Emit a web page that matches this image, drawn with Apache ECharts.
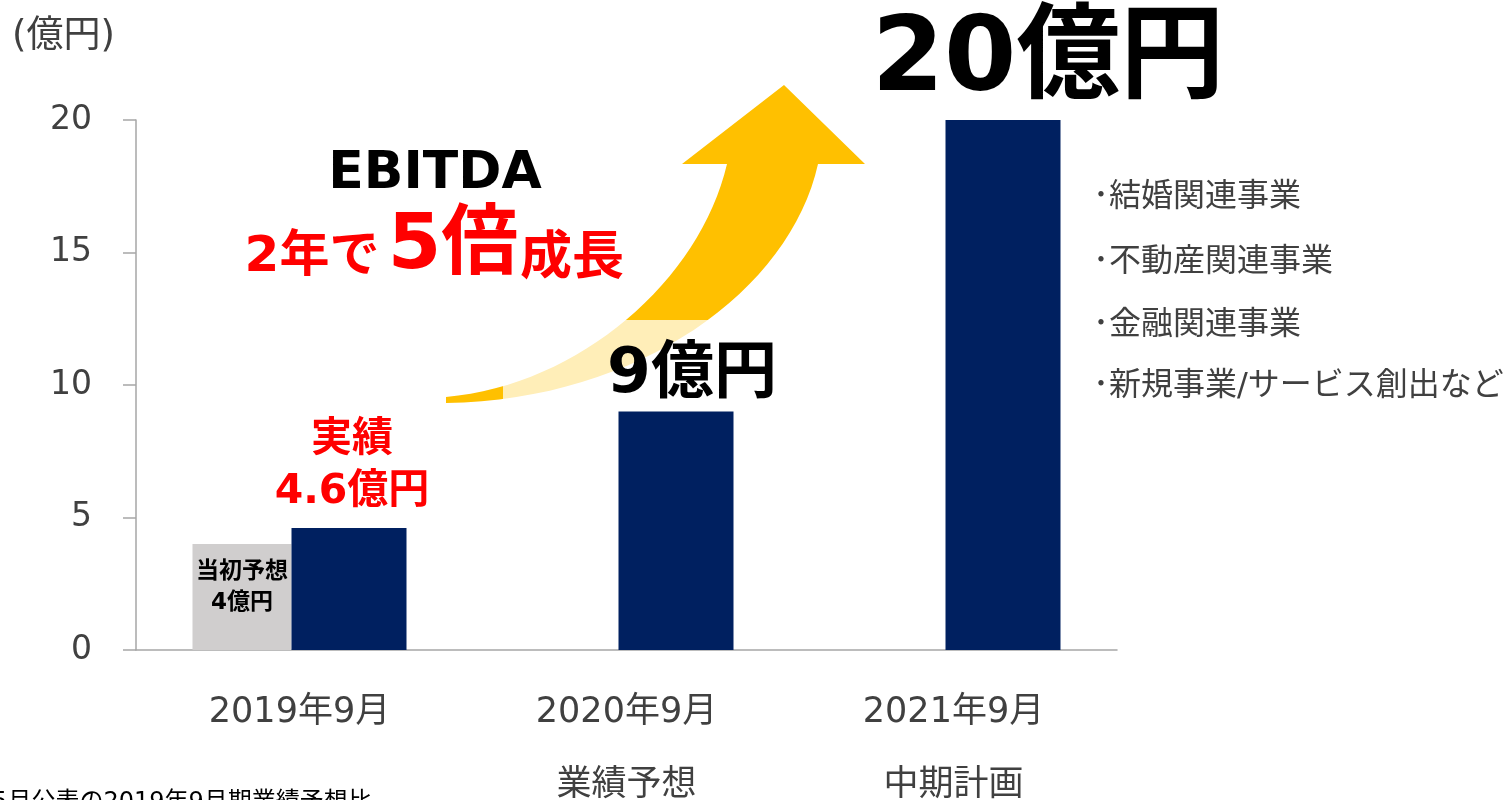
<!DOCTYPE html>
<html>
<head>
<meta charset="utf-8">
<script src="https://cdn.jsdelivr.net/npm/echarts@6/dist/echarts.min.js"></script>
<style>
html,body{margin:0;padding:0;background:#fff;}
#chart{width:1510px;height:800px;}
</style>
</head>
<body>
<div id="chart"></div>
<script>
// ---- data ----
const categories = ['2019年9月', '2020年9月', '2021年9月'];
const subLabels = ['', '業績予想', '中期計画'];
const initialForecast = [4, null, null];   // 当初予想
const ebitda = [4.6, 9, 20];               // EBITDA (億円)
const yTicks = [0, 5, 10, 15, 20];
const businessList = ['･結婚関連事業', '･不動産関連事業', '･金融関連事業', '･新規事業/サービス創出など'];
const unitLabel = '(億円)';
const footnote = '※5月公表の2019年9月期業績予想比';

// ---- styles ----
const FONT = "'DejaVu Sans', 'Noto Sans CJK JP', sans-serif";
const NAVY = '#002060';
const GRAY = '#D0CECE';
const RED = '#FF0000';
const AXIS = '#A6A6A6';
const TEXT = '#404040';

// decorative growth arrow shape
echarts.graphic.registerShape('growthArrow', echarts.graphic.extendShape({
  shape: {},
  buildPath: function (ctx) {
    ctx.moveTo(446, 403);
    ctx.bezierCurveTo(640, 400, 790, 290, 818, 164);
    ctx.lineTo(865, 164);
    ctx.lineTo(784, 85);
    ctx.lineTo(682, 164);
    ctx.lineTo(727, 164);
    ctx.bezierCurveTo(700, 280, 580, 385, 446, 397);
    ctx.closePath();
  }
}));

const ebitdaLabelStyles = [
  { show: true, position: 'top', distance: 10, offset: [3, 0], formatter: '実績\n{c}億円',
    color: RED, fontSize: 41, fontWeight: 'bold', lineHeight: 52, fontFamily: FONT },
  { show: true, position: 'top', distance: 4, offset: [16, 0], formatter: '{c}億円',
    color: '#000', fontSize: 63, fontWeight: 'bold', lineHeight: 63, fontFamily: FONT },
  { show: true, position: 'top', distance: 5, offset: [45, 0], formatter: '{c}億円',
    color: '#000', fontSize: 104, fontWeight: 'bold', lineHeight: 104, fontFamily: FONT }
];

const chart = echarts.init(document.getElementById('chart'));

const listY = [198, 263, 326, 387];

const option = {
  backgroundColor: '#fff',
  animation: false,
  grid: { left: 136, right: 393, top: 120, bottom: 150, containLabel: false, outerBoundsMode: 'none' },
  xAxis: {
    type: 'category',
    data: categories,
    axisLine: { show: true, lineStyle: { color: AXIS, width: 1.5 } },
    axisTick: { show: false },
    axisLabel: {
      interval: 0,
      margin: 26,
      fontSize: 35,
      lineHeight: 73,
      color: TEXT,
      fontFamily: FONT,
      verticalAlign: 'top',
      formatter: function (v, i) { return subLabels[i] ? v + '\n' + subLabels[i] : v; }
    }
  },
  yAxis: {
    type: 'value',
    min: yTicks[0],
    max: yTicks[yTicks.length - 1],
    interval: yTicks[1] - yTicks[0],
    axisLine: { show: true, lineStyle: { color: AXIS, width: 1.5 } },
    axisTick: { show: true, length: 13, lineStyle: { color: AXIS, width: 1.5 } },
    splitLine: { show: false },
    axisLabel: { margin: 44, fontSize: 33, color: TEXT, fontFamily: FONT, padding: [0, 0, 8, 0] }
  },
  series: [
    {
      name: '当初予想',
      type: 'bar',
      data: initialForecast,
      barWidth: 99,
      barGap: '0%',
      itemStyle: { color: GRAY },
      label: {
        show: true, position: 'inside', offset: [0, -9],
        formatter: '当初予想\n{c}億円',
        color: '#000', fontSize: 23, fontWeight: 'bold', lineHeight: 31, fontFamily: FONT
      }
    },
    {
      name: 'EBITDA',
      type: 'bar',
      data: ebitda.map((v, i) => ({ value: v, label: ebitdaLabelStyles[i] })),
      barWidth: 115,
      barGap: '0%',
      itemStyle: { color: NAVY }
    }
  ],
  graphic: [
    { type: 'growthArrow', z: 0, shape: {}, style: { fill: '#FFC000' } },
    {
      type: 'rect', z: 1,
      shape: { x: 503, y: 320, width: 363, height: 86 },
      style: { fill: 'rgba(255,255,255,0.72)' }
    },
    { type: 'text', z: 5, x: 12, y: 37,
      style: { text: unitLabel, font: '37px ' + FONT, fill: TEXT, align: 'left', verticalAlign: 'middle' } },
    { type: 'text', z: 5, x: 435, y: 174,
      style: { text: 'EBITDA', font: 'bold 52px ' + FONT, fill: '#000', align: 'center', verticalAlign: 'middle' } },
    { type: 'text', z: 5, x: 312, y: 258,
      style: { text: '2年で', font: 'bold 50px ' + FONT, fill: RED, align: 'center', verticalAlign: 'middle' } },
    { type: 'text', z: 5, x: 453, y: 248,
      style: { text: '5倍', font: 'bold 77px ' + FONT, fill: RED, align: 'center', verticalAlign: 'middle' } },
    { type: 'text', z: 5, x: 572, y: 260,
      style: { text: '成長', font: 'bold 52px ' + FONT, fill: RED, align: 'center', verticalAlign: 'middle' } }
  ].concat(businessList.map((t, i) => ({
    type: 'text', z: 5, x: 1093, y: listY[i],
    style: { text: t, font: '32px ' + FONT, fill: TEXT, align: 'left', verticalAlign: 'middle' }
  }))).concat([
    { type: 'text', z: 5, x: -28, y: 803,
      style: { text: footnote, font: '24px ' + FONT, fill: '#000', align: 'left', verticalAlign: 'middle' } }
  ])
};

chart.setOption(option);
</script>
</body>
</html>
